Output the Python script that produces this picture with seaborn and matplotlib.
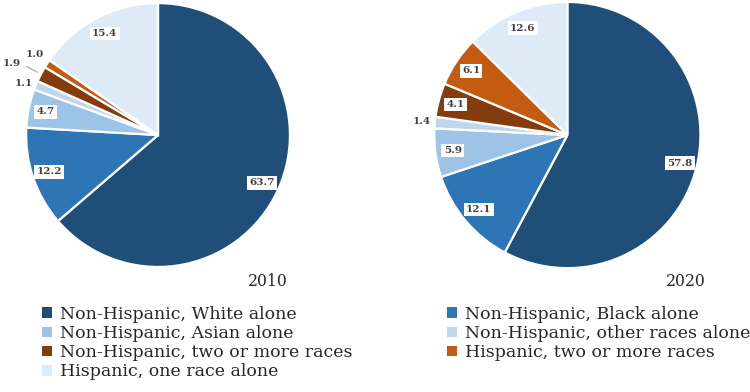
import numpy as np
import matplotlib
matplotlib.use("Agg")
import matplotlib.pyplot as plt
from matplotlib.patches import Patch
import seaborn as sns

# categories (clockwise from 12 o'clock)
groups = ["Non-Hispanic, White alone", "Non-Hispanic, Black alone",
          "Non-Hispanic, Asian alone", "Non-Hispanic, other races alone",
          "Non-Hispanic, two or more races", "Hispanic, two or more races",
          "Hispanic, one race alone"]
share_2010 = [63.7, 12.2, 4.7, 1.1, 1.9, 1.0, 15.4]
share_2020 = [57.8, 12.1, 5.9, 1.4, 4.1, 6.1, 12.6]
years = ["2010", "2020"]

colors = sns.color_palette(["#1F4E79", "#2E75B6", "#9DC3E6", "#BDD7EE",
                            "#843C0C", "#C55A11", "#DEEBF7"])

sns.set_style("white")
plt.rcParams['font.family'] = ['DejaVu Serif']

fig = plt.figure(figsize=(7.5, 3.92), dpi=100)
ax1 = fig.add_axes([0.0347, 0.319, 0.352, 0.673])
ax2 = fig.add_axes([0.579, 0.316, 0.355, 0.679])

# tiny slices get their label outside: (radius, angle nudge in degrees)
outer = {"2010": {3: (1.09, 1.3), 4: (1.23, 1.5), 5: (1.115, -0.6)},
         "2020": {3: (1.10, 0.0)}}


def draw_pie(ax, vals, year):
    wedges, _ = ax.pie(vals, colors=colors, startangle=90, counterclock=False,
                       wedgeprops=dict(edgecolor="white", linewidth=1.6))
    for i, (w, v) in enumerate(zip(wedges, vals)):
        ang = np.deg2rad((w.theta1 + w.theta2) / 2)
        c, s = np.cos(ang), np.sin(ang)
        if i in outer[year]:
            d, nudge = outer[year][i]
            if d > 1.2:
                # leader line
                ax.plot([1.03 * c, 1.17 * c], [1.03 * s, 1.17 * s],
                        color="#a6a6a6", lw=0.8)
            a2 = ang + np.deg2rad(nudge)
            ax.text(d * np.cos(a2), d * np.sin(a2), f"{v:.1f}", ha="center",
                    va="center", fontsize=7.5, fontweight="bold", color="#404040")
        else:
            ax.text(0.87 * c, 0.87 * s, f"{v:.1f}", ha="center", va="center",
                    fontsize=7.5, fontweight="bold", color="#404040",
                    bbox=dict(boxstyle="square,pad=0.22", facecolor="white",
                              edgecolor="none"))
    ax.set_xlim(-1, 1)
    ax.set_ylim(-1, 1)
    ax.set_aspect("equal")
    ax.axis("off")


draw_pie(ax1, share_2010, "2010")
draw_pie(ax2, share_2020, "2020")

fig.text(268 / 750, 1 - 281 / 392, years[0], ha="center", va="center", fontsize=11.3)
fig.text(686 / 750, 1 - 281 / 392, years[1], ha="center", va="center", fontsize=11.3)

handles = [Patch(facecolor=c, edgecolor="none") for c in colors]
left_idx = [0, 2, 4, 6]
right_idx = [1, 3, 5]
leg_kw = dict(frameon=False, loc="upper left", fontsize=12.5, handlelength=0.58,
              handleheight=0.58, handletextpad=0.45, labelspacing=0.12, borderpad=0,
              borderaxespad=0)
fig.legend([handles[i] for i in left_idx], [groups[i] for i in left_idx],
           bbox_to_anchor=(42 / 750, 1 - 306 / 392), **leg_kw)
fig.legend([handles[i] for i in right_idx], [groups[i] for i in right_idx],
           bbox_to_anchor=(447 / 750, 1 - 306 / 392), **leg_kw)

fig.savefig("out.png", dpi=100)
